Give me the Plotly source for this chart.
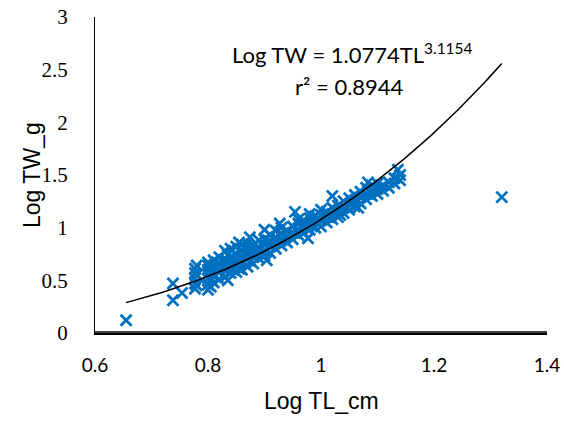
import numpy as np
import plotly.graph_objects as go

log_tl = [
    0.655, 0.738, 0.738, 0.754,
    0.777, 0.777, 0.777, 0.777, 0.777, 0.780, 0.780, 0.780,
    0.800, 0.800, 0.800, 0.800, 0.800, 0.800, 0.800,
    0.805, 0.805, 0.805, 0.805,
    0.810, 0.810, 0.810, 0.810,
    0.820, 0.820, 0.820, 0.820, 0.820,
    0.830, 0.830, 0.830, 0.830, 0.830,
    0.835, 0.835, 0.835, 0.835,
    0.840, 0.840, 0.840, 0.840, 0.840,
    0.850, 0.850, 0.850, 0.850, 0.850,
    0.855, 0.855, 0.855, 0.855,
    0.860, 0.860, 0.860, 0.860, 0.860,
    0.870, 0.870, 0.870, 0.870, 0.870,
    0.874, 0.875, 0.875, 0.875,
    0.880, 0.880, 0.880, 0.880,
    0.890, 0.890, 0.890, 0.890,
    0.900, 0.900, 0.900, 0.900, 0.900, 0.904,
    0.910, 0.910, 0.910, 0.910,
    0.920, 0.920, 0.920, 0.920,
    0.927, 0.930, 0.930, 0.930, 0.930,
    0.940, 0.940, 0.940,
    0.950, 0.950, 0.950, 0.954,
    0.960, 0.960, 0.960, 0.960,
    0.970, 0.970, 0.970, 0.977,
    0.980, 0.980, 0.980, 0.980,
    0.990, 0.990, 0.990,
    1.000, 1.000, 1.000, 1.000,
    1.010, 1.010, 1.010,
    1.020, 1.020, 1.020, 1.020,
    1.030, 1.030, 1.030, 1.034,
    1.040, 1.040, 1.040,
    1.050, 1.050, 1.050,
    1.060, 1.060, 1.060, 1.066,
    1.070, 1.070, 1.070,
    1.080, 1.080, 1.080, 1.083,
    1.090, 1.090, 1.090,
    1.100, 1.100, 1.100,
    1.110, 1.110,
    1.120, 1.120,
    1.130, 1.130,
    1.136, 1.140, 1.140,
    1.320,
]
log_tw = [
    0.12, 0.47, 0.31, 0.38,
    0.42, 0.47, 0.52, 0.57, 0.61, 0.45, 0.55, 0.64,
    0.41, 0.46, 0.52, 0.56, 0.60, 0.64, 0.67,
    0.44, 0.50, 0.58, 0.62,
    0.48, 0.54, 0.63, 0.69,
    0.51, 0.58, 0.62, 0.66, 0.72,
    0.53, 0.60, 0.65, 0.70, 0.78,
    0.50, 0.63, 0.68, 0.74,
    0.57, 0.62, 0.66, 0.72, 0.80,
    0.58, 0.64, 0.69, 0.75, 0.82,
    0.61, 0.67, 0.71, 0.86,
    0.60, 0.66, 0.73, 0.78, 0.84,
    0.63, 0.70, 0.76, 0.81, 0.85,
    0.91, 0.68, 0.74, 0.79,
    0.66, 0.72, 0.78, 0.83,
    0.71, 0.76, 0.81, 0.88,
    0.73, 0.79, 0.84, 0.89, 0.98, 0.69,
    0.76, 0.82, 0.87, 0.93,
    0.80, 0.86, 0.91, 0.97,
    1.04, 0.83, 0.88, 0.94, 1.00,
    0.86, 0.92, 0.97,
    0.89, 0.95, 1.01, 1.15,
    0.93, 0.98, 1.04, 1.08,
    0.95, 1.01, 1.06, 0.90,
    0.98, 1.03, 1.09, 1.13,
    1.00, 1.06, 1.11,
    1.01, 1.07, 1.12, 1.17,
    1.05, 1.10, 1.15,
    1.08, 1.13, 1.19, 1.30,
    1.10, 1.16, 1.21, 1.12,
    1.14, 1.19, 1.25,
    1.17, 1.22, 1.28,
    1.20, 1.26, 1.31, 1.19,
    1.23, 1.29, 1.34,
    1.27, 1.32, 1.38, 1.43,
    1.30, 1.35, 1.40,
    1.32, 1.37, 1.42,
    1.35, 1.40,
    1.38, 1.43,
    1.42, 1.47,
    1.55, 1.45, 1.50,
    1.29,
]

# Power trendline coefficients shown on the chart
coef_a = 1.0774
coef_b = 3.1154
r_squared = 0.8944
trend_start = 0.655
trend_end = 1.32

x_ticks = [0.6, 0.8, 1.0, 1.2, 1.4]
x_tick_text = ["0.6", "0.8", "1", "1.2", "1.4"]
y_ticks = [0, 0.5, 1, 1.5, 2, 2.5, 3]
y_tick_text = ["0", "0.5", "1", "1.5", "2", "2.5", "3"]

trend_x = np.linspace(trend_start, trend_end, 200)
trend_y = coef_a * trend_x ** coef_b

fig = go.Figure()
fig.add_trace(go.Scatter(
    x=log_tl, y=log_tw, mode="markers",
    marker=dict(symbol="x-thin-open", size=11, color="#0070C0",
                line=dict(width=2.8, color="#0070C0")),
    showlegend=False, cliponaxis=False,
))
fig.add_trace(go.Scatter(
    x=trend_x, y=trend_y, mode="lines",
    line=dict(color="black", width=1.5),
    showlegend=False,
))

# bottom axis line (drawn explicitly, slightly inside the plot area)
fig.add_shape(type="line", xref="paper", yref="paper", x0=0, x1=1, y0=0.003, y1=0.003,
              line=dict(color="black", width=1.5), layer="above")

fig.add_annotation(
    x=(352 - 95) / 452, y=(333 - 53) / 316, xref="paper", yref="paper",
    text=f"Log TW = {coef_a}TL<sup>{coef_b}</sup>",
    showarrow=False, font=dict(family="Lato, Open Sans, sans-serif", size=22, color="black"),
    xanchor="center", yanchor="middle",
)
fig.add_annotation(
    x=(349 - 95) / 452, y=(333 - 87) / 316, xref="paper", yref="paper",
    text=f"r² = {r_squared}",
    showarrow=False, font=dict(family="Lato, Open Sans, sans-serif", size=22, color="black"),
    xanchor="center", yanchor="middle",
)
# axis titles
fig.add_annotation(
    x=(32 - 95) / 452, y=0.5, xref="paper", yref="paper",
    text="Log TW_g", textangle=-90, showarrow=False,
    font=dict(family="Liberation Sans, Arial, sans-serif", size=23, color="black"),
    xanchor="center", yanchor="middle",
)
fig.add_annotation(
    x=0.5, y=(333 - 401) / 316, xref="paper", yref="paper",
    text="Log TL_cm", showarrow=False,
    font=dict(family="Liberation Sans, Arial, sans-serif", size=23, color="black"),
    xanchor="center", yanchor="middle",
)

fig.update_layout(
    width=564, height=421,
    margin=dict(l=95, r=17, t=17, b=88),
    paper_bgcolor="white", plot_bgcolor="white",
    xaxis=dict(
        range=[0.6, 1.4], tickvals=x_ticks, ticktext=x_tick_text,
        showgrid=False, zeroline=False, showline=True, linecolor="black", linewidth=1.5,
        ticks="", ticklabelstandoff=14, automargin=False,
        tickfont=dict(family="Lato, Open Sans, sans-serif", size=19, color="black"),
    ),
    yaxis=dict(
        range=[0, 3], tickvals=y_ticks, ticktext=y_tick_text,
        showgrid=False, zeroline=False, showline=True, linecolor="black", linewidth=1,
        ticks="", ticklabelstandoff=22, automargin=False,
        tickfont=dict(family="Liberation Serif, Times New Roman, serif", size=21, color="black"),
    ),
)

fig.write_html(
    "out.html",
    config={"displayModeBar": False},
    post_script="document.body.style.margin='0';document.body.style.overflow='hidden';",
)
